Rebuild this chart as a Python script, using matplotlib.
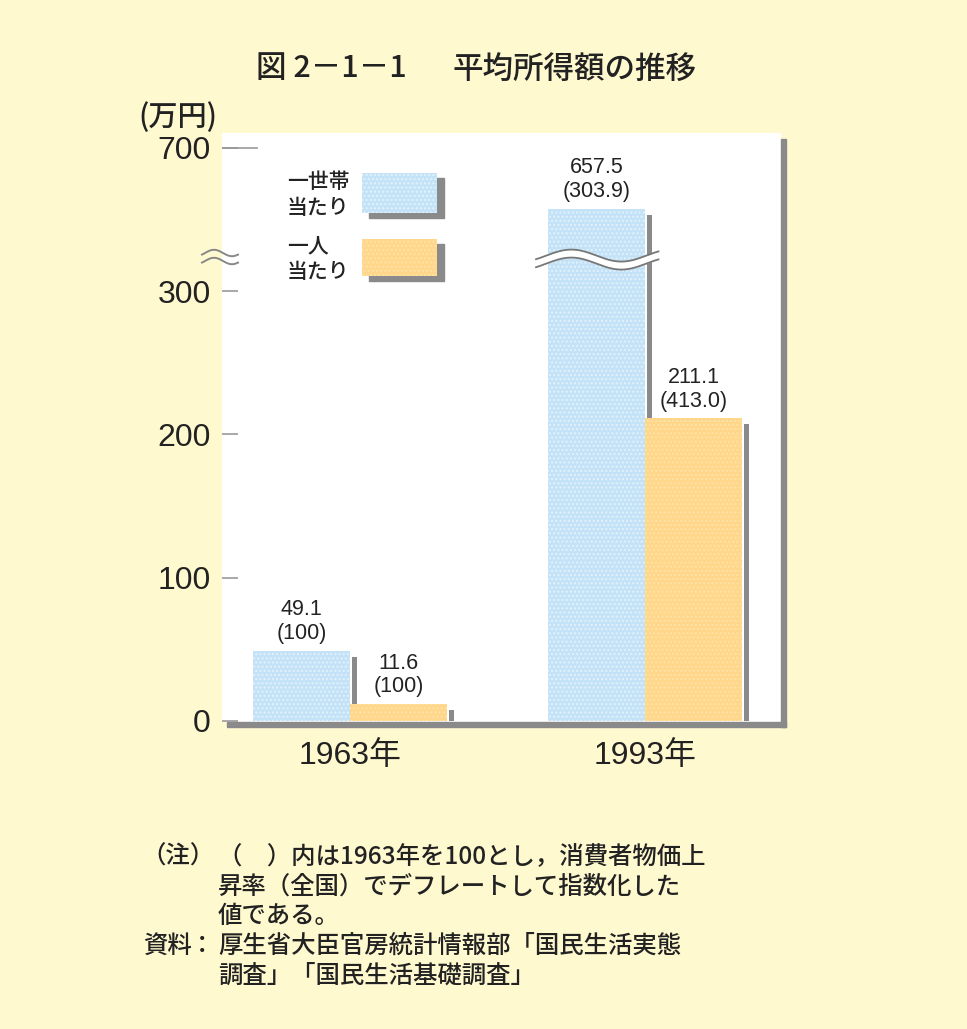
import numpy as np
import matplotlib
matplotlib.use('Agg')
import matplotlib.pyplot as plt
from matplotlib.patches import Rectangle
from matplotlib.lines import Line2D

# ---------------- data ----------------
years = ['1963年', '1993年']
household = [49.1, 657.5]           # 一世帯当たり (万円)
household_idx = ['100', '303.9']
person = [11.6, 211.1]              # 一人当たり (万円)
person_idx = ['100', '413.0']
ytick_values = [0, 100, 200, 300, 700]
ytick_labels = ['0', '100', '200', '300', '700']

# broken axis: values above UPPER_START are shifted down by SHIFT
UPPER_START = 600
SHIFT = 300
BREAK_AT = 622


def disp(v):
    return v - SHIFT if v > UPPER_START else v


W, H = 967, 1029
NUM = ['Liberation Sans', 'Noto Sans CJK JP']
JP = ['Noto Sans CJK JP', 'DejaVu Sans']
BG = '#FFF9D0'
BLUE = '#C3E2F7'
BLUE_H = '#E2F2FC'
ORANGE = '#FFD68A'
ORANGE_H = '#FFE3A6'
SHADOW = '#8A8A8A'
TXT = '#222222'
plt.rcParams['hatch.linewidth'] = 1.0


def fx(x):
    return x / W


def fy(y):
    return 1 - y / H


fig = plt.figure(figsize=(W / 100, H / 100), dpi=100)
fig.patch.set_facecolor(BG)

# axes = white panel (pixel geometry)
px_per_unit_y = 1.433
px_per_unit_x = 295.0
ax_left, ax_right, ax_top, ax_bottom = 222, 781, 133, 722
zero_px = 721
ax = fig.add_axes([fx(ax_left), fy(ax_bottom), (ax_right - ax_left) / W, (ax_bottom - ax_top) / H])
ax.set_facecolor('white')
ax.set_ylim(-(ax_bottom - zero_px) / px_per_unit_y, (zero_px - ax_top) / px_per_unit_y)
ax.set_xlim((ax_left - 350) / px_per_unit_x, (ax_right - 350) / px_per_unit_x)
for s in ax.spines.values():
    s.set_visible(False)

x = np.arange(len(years))
w = 97 / px_per_unit_x
sw = 5 / px_per_unit_x
sdrop = 6 / px_per_unit_y

hh_d = [disp(v) for v in household]
pp_d = [disp(v) for v in person]

# shadows
ax.bar(x + 1.5 / px_per_unit_x + sw / 2, [h - sdrop for h in hh_d], sw,
       color=SHADOW, zorder=1, linewidth=0)
ax.bar(x + w + 1.5 / px_per_unit_x + sw / 2, [h - sdrop for h in pp_d], sw,
       color=SHADOW, zorder=1, linewidth=0)
# bars
ax.bar(x - w / 2, hh_d, w, facecolor=BLUE, edgecolor=BLUE_H, hatch='....', zorder=2, linewidth=0)
ax.bar(x + w / 2, pp_d, w, facecolor=ORANGE, edgecolor=ORANGE_H, hatch='....', zorder=2, linewidth=0)

# value labels
for xi, hv, hd, hi in zip(x, household, hh_d, household_idx):
    ax.annotate(f'{hv}\n({hi})', (xi - w / 2, hd), xytext=(0, 5), textcoords='offset points',
                ha='center', va='bottom', fontsize=15.5, family=NUM, color=TXT,
                linespacing=1.15, zorder=5)
for xi, pv, pd_, pi in zip(x, person, pp_d, person_idx):
    ax.annotate(f'{pv}\n({pi})', (xi + w / 2, pd_), xytext=(0, 5), textcoords='offset points',
                ha='center', va='bottom', fontsize=15.5, family=NUM, color=TXT,
                linespacing=1.15, zorder=5)

# break wave across the 1993 household bar
bx = 1 - w / 2
xs = np.linspace(bx - 0.205, bx + 0.21, 200)
amp = 6 / px_per_unit_y
half = 4 / px_per_unit_y
yc = disp(BREAK_AT) + amp * np.sin(2 * np.pi * (xs - (bx - 0.17)) / (100 / px_per_unit_x))
ax.fill_between(xs, yc - half, yc + half, color='white', zorder=4, linewidth=0)
ax.plot(xs, yc - half, color='#777777', lw=1.3, zorder=4)
ax.plot(xs, yc + half, color='#777777', lw=1.3, zorder=4)

# y ticks
ax.set_yticks([disp(v) for v in ytick_values])
ax.set_yticklabels(ytick_labels, family=NUM, fontsize=23, color=TXT)
ax.tick_params(axis='y', direction='in', length=11.5, width=1.2, color='#999999', pad=8)
# longer tick at 700
ax.plot([0, 35 / (ax_right - ax_left)], [disp(700), disp(700)], color='#999999', lw=1.2,
        transform=ax.get_yaxis_transform(), zorder=3)

# x ticks
ax.set_xticks(x)
ax.set_xticklabels(years, family=NUM, fontsize=23, color=TXT)
ax.tick_params(axis='x', length=0, pad=14)

# panel shadow lines (bottom & right)
fig.add_artist(Rectangle((fx(227), fy(727)), (786 - 227) / W, 5 / H, transform=fig.transFigure,
                         color=SHADOW, zorder=5))
fig.add_artist(Rectangle((fx(781), fy(727)), 5 / W, (727 - 139) / H, transform=fig.transFigure,
                         color=SHADOW, zorder=5))

# axis break mark (≈)
wx = np.linspace(202, 238, 60)
for yc0 in (253, 261):
    wy = yc0 - 3.2 * np.sin(2 * np.pi * (wx - 202) / 36 - np.pi / 6)
    fig.add_artist(Line2D(fx(wx), fy(wy), transform=fig.transFigure, color='#888888', lw=1.4, zorder=6))

# unit label
fig.text(fx(178), fy(117), '(万円)', family=JP, fontsize=21, color=TXT, ha='center', va='center',
         weight='medium')

# title
fig.text(fx(256), fy(69), '図 2－1－1', family=JP, fontsize=22, color=TXT, ha='left', va='center',
         weight='medium')
fig.text(fx(452), fy(69), '平均所得額の推移', family=JP, fontsize=22, color=TXT, ha='left',
         va='center', weight='medium')

# legend
legend_items = [('一世帯\n当たり', BLUE, BLUE_H, 173, 213),
                ('一人\n当たり', ORANGE, ORANGE_H, 239, 276)]
for label, col, hcol, ytop, ybot in legend_items:
    fig.add_artist(Rectangle((fx(369), fy(ybot + 5)), (444 - 369) / W, (ybot - ytop) / H,
                             transform=fig.transFigure, color=SHADOW, zorder=6))
    fig.add_artist(Rectangle((fx(362), fy(ybot)), (437 - 362) / W, (ybot - ytop) / H,
                             transform=fig.transFigure, facecolor=col, edgecolor=hcol,
                             hatch='....', linewidth=0, zorder=7))
    fig.text(fx(287), fy((ytop + ybot) / 2 + 2), label, family=JP, fontsize=15, color=TXT,
             ha='left', va='center', linespacing=1.2, weight='medium', zorder=7)

# notes
NOTE_FS = 17.6
notes = [
    (857, '（注）', '（　）内は1963年を100とし，消費者物価上'),
    (887, '', '昇率（全国）でデフレートして指数化した'),
    (916, '', '値である。'),
    (946, '資料', '厚生省大臣官房統計情報部「国民生活実態'),
    (976, '', '調査」「国民生活基礎調査」'),
]
for ly, lead, body in notes:
    if lead == '（注）':
        fig.text(fx(141), fy(ly), lead, family=JP, fontsize=NOTE_FS, color=TXT, ha='left',
                 va='center', weight='medium')
    elif lead:
        fig.text(fx(143), fy(ly), lead, family=JP, fontsize=NOTE_FS, color=TXT, ha='left',
                 va='center', weight='medium')
        fig.text(fx(202), fy(ly), '：', family=JP, fontsize=NOTE_FS, color=TXT, ha='center',
                 va='center', weight='medium')
    fig.text(fx(218), fy(ly), body, family=JP, fontsize=NOTE_FS, color=TXT, ha='left',
             va='center', weight='medium')

fig.savefig('out.png', dpi=100, facecolor=BG)
